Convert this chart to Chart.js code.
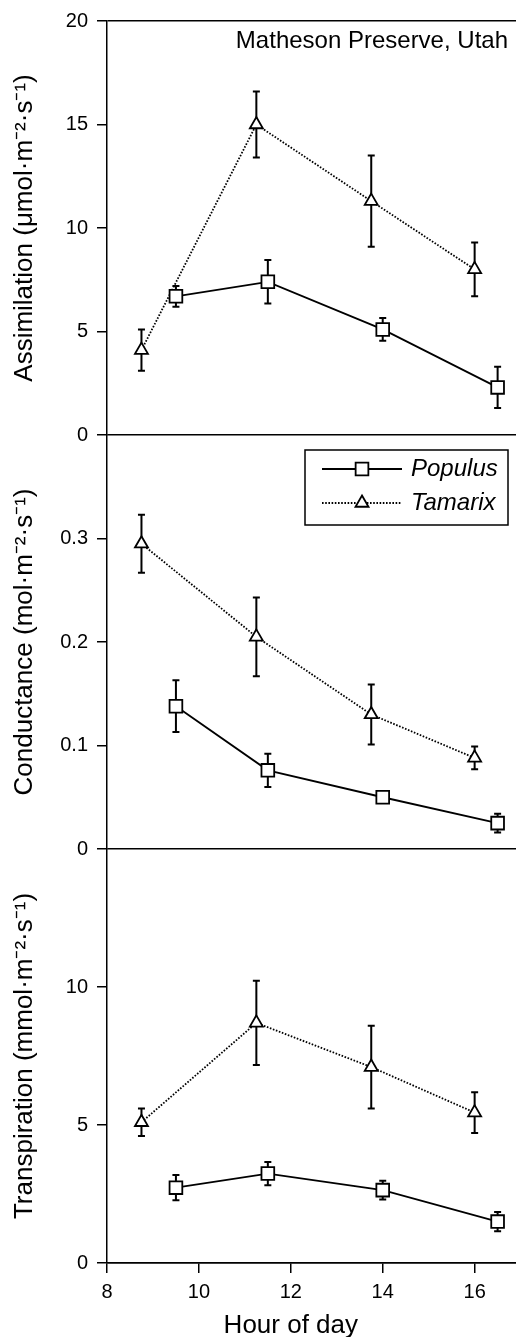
<!DOCTYPE html>
<html>
<head>
<meta charset="utf-8">
<script src="https://cdn.jsdelivr.net/npm/chart.js@4"></script>
<style>
body { margin: 0; background: #fff; overflow: hidden; }
#wrap { width: 516px; height: 1337px; position: relative; }
</style>
</head>
<body>
<div id="wrap"><canvas id="chart"></canvas></div>
<script>
// hour of measurement for each species
const hoursPopulus = [9.5, 11.5, 14, 16.5];
const hoursTamarix = [8.75, 11.25, 13.75, 16];

// assimilation (umol m-2 s-1), mean and error
const assimPopulus = [6.7, 7.4, 5.1, 2.3];
const assimPopulusErr = [0.5, 1.05, 0.55, 1.0];
const assimTamarix = [4.1, 15.0, 11.3, 8.0];
const assimTamarixErr = [1.0, 1.6, 2.2, 1.3];

// conductance (mol m-2 s-1)
const condPopulus = [0.138, 0.076, 0.050, 0.025];
const condPopulusErr = [0.025, 0.016, 0.004, 0.009];
const condTamarix = [0.295, 0.205, 0.130, 0.088];
const condTamarixErr = [0.028, 0.038, 0.029, 0.011];

// transpiration (mmol m-2 s-1)
const transPopulus = [2.73, 3.24, 2.64, 1.5];
const transPopulusErr = [0.46, 0.42, 0.34, 0.35];
const transTamarix = [5.1, 8.7, 7.1, 5.45];
const transTamarixErr = [0.5, 1.53, 1.5, 0.74];

// tick labels
const xTicks = [8, 10, 12, 14, 16];
const assimTicks = [0, 5, 10, 15, 20];
const condTicks = [0, 0.1, 0.2, 0.3];
const transTicks = [0, 5, 10];

const FONT = "'Liberation Sans', Arial, Helvetica, sans-serif";

function pts(xs, ys) {
    return xs.map((x, i) => ({x: x, y: ys[i]}));
}

const populusStyle = {
    borderColor: '#000',
    borderWidth: 1.8,
    pointStyle: 'rect',
    pointRadius: 9,
    pointHoverRadius: 9,
    pointBackgroundColor: '#fff',
    pointBorderColor: '#000',
    pointBorderWidth: 1.8,
    tension: 0,
    fill: false
};
const tamarixStyle = {
    borderColor: '#000',
    borderWidth: 1.8,
    borderDash: [1.6, 1.6],
    pointStyle: 'triangle',
    pointRadius: 7.5,
    pointHoverRadius: 7.5,
    pointBackgroundColor: '#fff',
    pointBorderColor: '#000',
    pointBorderWidth: 1.8,
    tension: 0,
    fill: false
};

function makeSet(label, style, axis, xs, ys, err) {
    return Object.assign({}, style, {label: label, yAxisID: axis, data: pts(xs, ys), err: err});
}

const datasets = [
    makeSet('Populus', populusStyle, 'yA', hoursPopulus, assimPopulus, assimPopulusErr),
    makeSet('Tamarix', tamarixStyle, 'yA', hoursTamarix, assimTamarix, assimTamarixErr),
    makeSet('Populus', populusStyle, 'yC', hoursPopulus, condPopulus, condPopulusErr),
    makeSet('Tamarix', tamarixStyle, 'yC', hoursTamarix, condTamarix, condTamarixErr),
    makeSet('Populus', populusStyle, 'yT', hoursPopulus, transPopulus, transPopulusErr),
    makeSet('Tamarix', tamarixStyle, 'yT', hoursTamarix, transTamarix, transTamarixErr)
];

// one panel = one stacked y axis
function panelAxis(title, tickList, min, max, frame) {
    return {
        type: 'linear',
        position: 'left',
        stack: 'panels',
        stackWeight: 1,
        min: min,
        max: max,
        afterBuildTicks: s => { s.ticks = tickList.map(v => ({value: v})); },
        afterFit: s => { s.width = 107; },
        ticks: {
            color: '#000',
            padding: 9,
            font: {family: FONT, size: 20},
            callback: v => String(v)
        },
        grid: {
            color: c => (c.tick && frame.indexOf(c.tick.value) >= 0) ? '#000' : 'rgba(0,0,0,0)',
            lineWidth: 1.5,
            tickColor: '#000',
            tickLength: 10
        },
        border: {color: '#000', width: 1.5},
        title: {
            display: true,
            text: title,
            color: '#000',
            font: {family: FONT, size: 26},
            padding: {top: 9, bottom: 0}
        }
    };
}

// error bars, drawn under the lines and markers
const errorBars = {
    id: 'errorBars',
    beforeDatasetsDraw(chart) {
        const ctx = chart.ctx;
        chart.data.datasets.forEach((ds, i) => {
            const meta = chart.getDatasetMeta(i);
            const yScale = chart.scales[ds.yAxisID];
            ctx.save();
            ctx.strokeStyle = '#000';
            ctx.lineWidth = 2;
            meta.data.forEach((pt, j) => {
                const v = ds.data[j].y, e = ds.err[j];
                const top = yScale.getPixelForValue(v + e);
                const bot = yScale.getPixelForValue(v - e);
                ctx.beginPath();
                ctx.moveTo(pt.x, top); ctx.lineTo(pt.x, bot);
                ctx.moveTo(pt.x - 3.5, top); ctx.lineTo(pt.x + 3.5, top);
                ctx.moveTo(pt.x - 3.5, bot); ctx.lineTo(pt.x + 3.5, bot);
                ctx.stroke();
            });
            ctx.restore();
        });
    }
};

function drawMarker(ctx, style, x, y) {
    const r = style.pointRadius;
    ctx.beginPath();
    if (style.pointStyle === 'rect') {
        const h = r * Math.SQRT1_2;
        ctx.rect(x - h, y - h, 2 * h, 2 * h);
    } else {
        ctx.moveTo(x, y - r);
        ctx.lineTo(x + r * 0.866, y + r * 0.5);
        ctx.lineTo(x - r * 0.866, y + r * 0.5);
        ctx.closePath();
    }
    ctx.fillStyle = '#fff';
    ctx.fill();
    ctx.lineWidth = style.pointBorderWidth;
    ctx.strokeStyle = '#000';
    ctx.stroke();
}

// site label, x title and the legend box in the middle panel
const decorations = {
    id: 'decorations',
    afterDraw(chart) {
        const ctx = chart.ctx;
        const area = chart.chartArea;
        const x = chart.scales.x, yA = chart.scales.yA, yC = chart.scales.yC;
        ctx.save();
        ctx.fillStyle = '#000';
        ctx.font = '24px ' + FONT;
        ctx.textAlign = 'right';
        ctx.textBaseline = 'middle';
        ctx.fillText('Matheson Preserve, Utah', area.right - 8, yA.top + 20);

        // x title sits under the 12 h tick in the original
        ctx.font = '26px ' + FONT;
        ctx.textAlign = 'center';
        ctx.textBaseline = 'alphabetic';
        ctx.fillText('Hour of day', x.getPixelForValue(12), x.bottom - 4);

        const bx = area.right - 211, by = yC.top + 15;
        ctx.lineWidth = 1.5;
        ctx.strokeStyle = '#000';
        ctx.setLineDash([]);
        ctx.strokeRect(bx, by, 203, 75);

        const rows = [[populusStyle, 'Populus', by + 19], [tamarixStyle, 'Tamarix', by + 53]];
        rows.forEach(([style, name, ry]) => {
            ctx.beginPath();
            ctx.setLineDash(style.borderDash || []);
            ctx.lineWidth = style.borderWidth;
            ctx.moveTo(bx + 17, ry);
            ctx.lineTo(bx + 97, ry);
            ctx.stroke();
            ctx.setLineDash([]);
            drawMarker(ctx, style, bx + 57, ry);
            ctx.fillStyle = '#000';
            ctx.font = 'italic 24px ' + FONT;
            ctx.textAlign = 'left';
            ctx.textBaseline = 'middle';
            ctx.fillText(name, bx + 106, ry);
        });
        ctx.restore();
    }
};

new Chart(document.getElementById('chart').getContext('2d'), {
    type: 'line',
    data: {datasets: datasets},
    options: {
        responsive: true,
        maintainAspectRatio: false,
        animation: false,
        layout: {autoPadding: false, padding: {top: 18, right: 0, bottom: 0, left: 0}},
        plugins: {
            legend: {display: false},
            tooltip: {enabled: false}
        },
        scales: {
            x: {
                type: 'linear',
                min: 8,
                max: 16.9,
                afterBuildTicks: s => { s.ticks = xTicks.map(v => ({value: v})); },
                afterFit: s => { s.height = 74; s.paddingLeft = 0; s.paddingRight = 0; },
                ticks: {
                    color: '#000',
                    padding: 7,
                    font: {family: FONT, size: 20},
                    callback: v => String(v)
                },
                grid: {
                    drawOnChartArea: false,
                    color: '#000',
                    lineWidth: 1.5,
                    tickLength: 10
                },
                border: {color: '#000', width: 1.5},
                title: {display: false}
            },
            yT: panelAxis('Transpiration (mmol·m⁻²·s⁻¹)', transTicks, 0, 15, [0]),
            yC: panelAxis('Conductance (mol·m⁻²·s⁻¹)', condTicks, 0, 0.4, [0]),
            yA: panelAxis('Assimilation (μmol·m⁻²·s⁻¹)', assimTicks, 0, 20, [0, 20])
        }
    },
    plugins: [errorBars, decorations]
});
</script>
</body>
</html>
